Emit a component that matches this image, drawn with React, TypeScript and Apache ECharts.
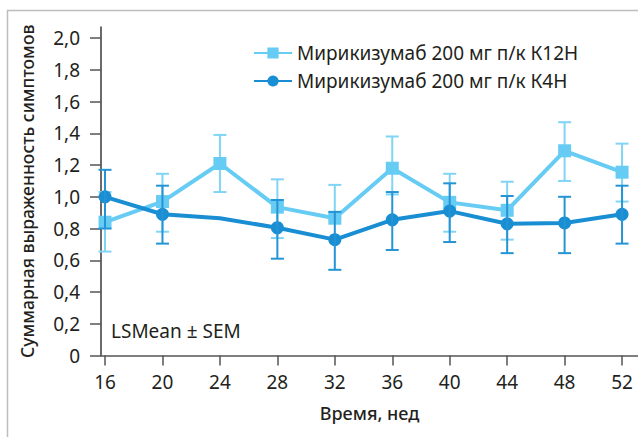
import React, { useEffect, useRef } from "react";
import * as echarts from "echarts";

const weeks = [16, 20, 24, 28, 32, 36, 40, 44, 48, 52];
const yTicks = [0, 0.2, 0.4, 0.6, 0.8, 1.0, 1.2, 1.4, 1.6, 1.8, 2.0];

const nameK12 = "Мирикизумаб 200 мг п/к К12Н";
const nameK4 = "Мирикизумаб 200 мг п/к К4Н";

// K12H: mean, lower, upper
const k12Mean = [0.84, 0.97, 1.21, 0.935, 0.865, 1.18, 0.965, 0.915, 1.29, 1.155];
const k12Low = [0.655, 0.78, 1.03, 0.74, 0.865, 1.015, 0.78, 0.73, 1.1, 0.97];
const k12High = [1.03, 1.145, 1.39, 1.11, 1.075, 1.38, 1.145, 1.095, 1.47, 1.335];

// K4H: mean, lower, upper (no marker / bar at week 24)
const k4Mean = [1.0, 0.89, 0.865, 0.805, 0.73, 0.855, 0.91, 0.83, 0.835, 0.89];
const k4Low = [0.8, 0.705, null, 0.61, 0.54, 0.665, 0.715, 0.645, 0.645, 0.705];
const k4High = [1.17, 1.07, null, 0.98, 0.905, 1.03, 1.085, 1.005, 1.0, 1.07];

const LIGHT = "#66CCF4";
const LIGHT_BAR = "#80D4F5";
const DARK = "#1A8ED3";
const DARK_BAR = "#2494D5";
const TEXT = "#231F20";
const FONT = "Noto Sans";

function errorSeries(low: (number | null)[], high: (number | null)[], color: string, z: number) {
  const data: number[][] = [];
  weeks.forEach((w, i) => {
    const lo = low[i];
    const hi = high[i];
    if (lo != null && hi != null) data.push([w, lo, hi]);
  });
  return {
    type: "custom",
    z,
    silent: true,
    data,
    encode: { x: 0, y: [1, 2] },
    renderItem: (params: any, api: any) => {
      const x = api.value(0);
      const pHi = api.coord([x, api.value(2)]);
      const pLo = api.coord([x, api.value(1)]);
      const hw = 6.5;
      const style = { stroke: color, lineWidth: 2 };
      return {
        type: "group",
        children: [
          { type: "line", shape: { x1: pHi[0], y1: pHi[1], x2: pLo[0], y2: pLo[1] }, style },
          { type: "line", shape: { x1: pHi[0] - hw, y1: pHi[1], x2: pHi[0] + hw, y2: pHi[1] }, style },
          { type: "line", shape: { x1: pLo[0] - hw, y1: pLo[1], x2: pLo[0] + hw, y2: pLo[1] }, style },
        ],
      };
    },
  };
}

export default function App() {
  const ref = useRef<HTMLDivElement>(null);
  useEffect(() => {
    document.body.style.margin = "0";
    if (!ref.current) return;
    const chart = echarts.init(ref.current, undefined, { renderer: "svg" });
    const k12Data = weeks.map((w, i) => [w, k12Mean[i]]);
    const k4Data = weeks.map((w, i) =>
      k4Low[i] == null ? { value: [w, k4Mean[i]], symbol: "none" } : { value: [w, k4Mean[i]] }
    );
    chart.setOption({
      animation: false,
      backgroundColor: "#ffffff",
      textStyle: { fontFamily: FONT },
      grid: { left: 101, right: 0, top: 27, bottom: 81.5, containLabel: false },
      legend: {
        data: [nameK12, nameK4],
        orient: "vertical",
        left: 248,
        top: 37,
        itemWidth: 38,
        itemHeight: 14,
        itemGap: 6,
        textStyle: { fontFamily: FONT, fontSize: 19, color: TEXT, lineHeight: 22 },
      },
      xAxis: {
        type: "value",
        min: 15.72,
        max: 53.11,
        name: "Время, нед",
        nameLocation: "middle",
        nameGap: 48,
        nameTextStyle: { fontFamily: FONT, fontSize: 18, color: TEXT, fontWeight: 500 },
        axisLine: { show: true, lineStyle: { color: "#555555", width: 1.5 } },
        axisTick: { show: true, length: 10, customValues: weeks, lineStyle: { color: "#555555", width: 1.5 } },
        axisLabel: { customValues: weeks, margin: 17, fontSize: 19, color: TEXT, fontFamily: FONT },
        splitLine: { show: false },
      },
      yAxis: {
        type: "value",
        min: 0,
        max: 2.07,
        name: "Суммарная выраженность симптомов",
        nameLocation: "middle",
        nameRotate: 90,
        nameGap: 65,
        nameTextStyle: { fontFamily: FONT, fontSize: 17.5, color: TEXT, fontWeight: 500 },
        axisLine: { show: true, lineStyle: { color: "#3A3A3A", width: 1.5 } },
        axisTick: { show: true, length: 11, customValues: yTicks, lineStyle: { color: "#555555", width: 1.5 } },
        axisLabel: {
          customValues: yTicks,
          margin: 21,
          fontSize: 19,
          color: TEXT,
          fontFamily: FONT,
          formatter: (v: number) => (v === 0 ? "0" : v.toFixed(1).replace(".", ",")),
        },
        splitLine: { show: false },
      },
      graphic: [
        {
          type: "polyline",
          shape: { points: [[7.5, 437], [7.5, 10.5], [638, 10.5]] },
          style: { stroke: "#BDBDBD", lineWidth: 1.5, fill: "none" },
          silent: true,
        },
        {
          type: "text",
          left: 111,
          top: 321,
          style: { text: "LSMean ± SEM", fontFamily: FONT, fontSize: 19, fill: TEXT },
          silent: true,
        },
      ],
      series: [
        errorSeries(k12Low, k12High, LIGHT_BAR, 1),
        {
          name: nameK12,
          type: "line",
          z: 2,
          data: k12Data,
          symbol: "rect",
          symbolSize: 13,
          lineStyle: { color: LIGHT, width: 4 },
          itemStyle: { color: LIGHT, borderWidth: 0 },
        },
        {
          name: nameK4,
          type: "line",
          z: 3,
          data: k4Data,
          symbol: "circle",
          symbolSize: 13,
          lineStyle: { color: DARK, width: 4 },
          itemStyle: { color: DARK, borderWidth: 0 },
        },
        errorSeries(k4Low, k4High, DARK_BAR, 4),
      ],
    });
    return () => chart.dispose();
  }, []);
  return <div ref={ref} style={{ width: 638, height: 437 }} />;
}
